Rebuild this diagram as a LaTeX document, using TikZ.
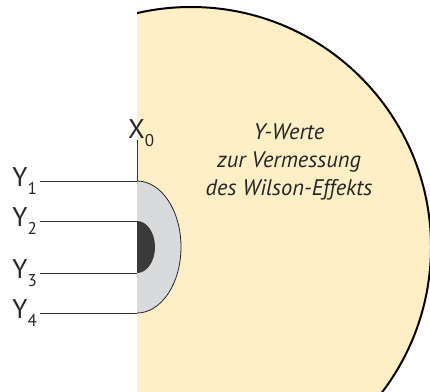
\documentclass[tikz,border=0pt]{standalone}
\usepackage{fontspec}
\setmainfont{PT Sans}
\usetikzlibrary{positioning}
\definecolor{wilsongelb}{RGB}{255,239,199}
\definecolor{hellgrau}{RGB}{217,218,219}
\definecolor{dunkelgrau}{RGB}{58,58,58}
\newcommand{\idx}[2]{#1{\fontsize{17}{17}\selectfont\raisebox{-8pt}{#2}}}

\begin{document}
\begin{tikzpicture}[x=1pt,y=-1pt,
  lbl/.style={font=\fontsize{27}{27}\selectfont, text=black!85, inner sep=0pt, anchor=base east},
  ltg/.style={draw=black!80, line width=0.9pt}]
\useasboundingbox (0,0) rectangle (430,391);
\def\xo{137}
\def\ym{247}

% grosser Kreis
\begin{scope}
\clip (\xo,0) rectangle (440,391);
\fill[wilsongelb] (191,\ym) circle (240);
\draw[line width=2pt] (191,\ym) circle (240);
\end{scope}

\fill[hellgrau] (\xo,181) arc[start angle=-90,end angle=90,x radius=44,y radius=66] -- cycle;
\draw[black!85, line width=0.8pt] (\xo,181) arc[start angle=-90,end angle=90,x radius=44,y radius=66];
\fill[dunkelgrau] (\xo,221) arc[start angle=-90,end angle=90,x radius=18,y radius=26] -- cycle;

\foreach \i/\y in {1/181,2/221,3/273,4/313} {
  \coordinate (a\i) at (\xo,\y);
  \node[lbl] (y\i) at (37,\y+5) {\idx{Y}{\i}};
  \draw[ltg, shorten <=3pt] (y\i.east |- a\i) -- (a\i);
}

\node[lbl, anchor=base west] (x0) at (128,138) {\idx{X}{0}};
\coordinate (a0) at (\xo,140);
\draw[ltg] (a0) -- (a1);

\node[font=\fontsize{22.5}{28}\selectfont\itshape, text=black!85, align=center] (txt) at (289,162) {Y-Werte\\zur Vermessung\\des Wilson-Effekts};
\end{tikzpicture}
\end{document}
